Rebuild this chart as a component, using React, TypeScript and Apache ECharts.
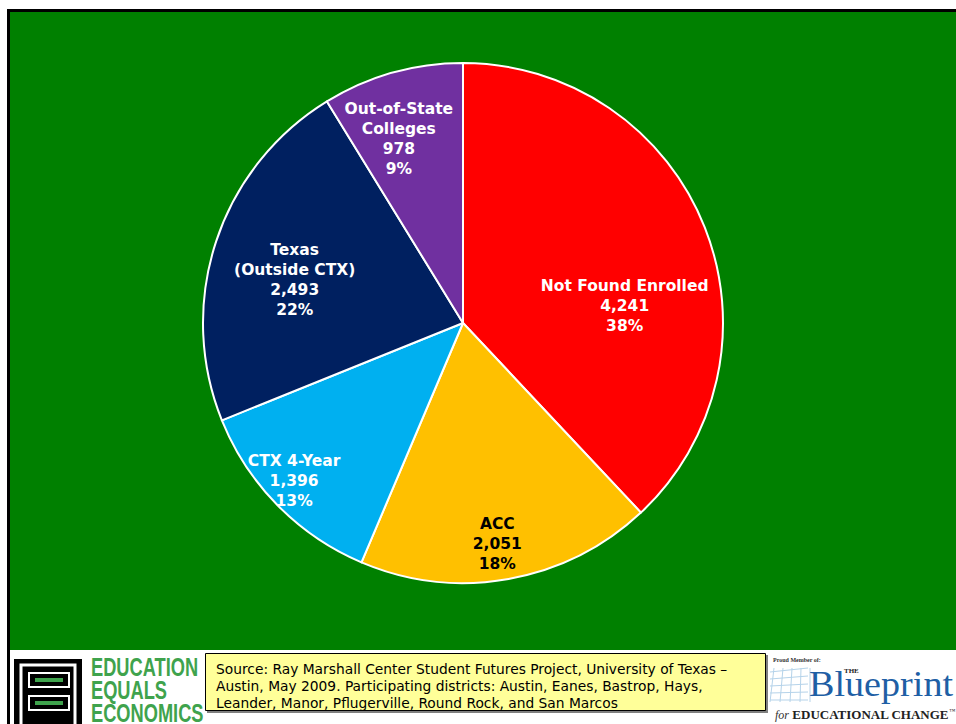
import React, { useEffect, useRef } from "react";
import * as echarts from "echarts";

const categories = ["Not Found Enrolled", "ACC", "CTX 4-Year", "Texas\n(Outside CTX)", "Out-of-State\nColleges"];
const values = [4241, 2051, 1396, 2493, 978];
const sliceColors = ["#FF0000", "#FFC000", "#00B0F0", "#002060", "#7030A0"];
const labelColors = ["#FFFFFF", "#000000", "#FFFFFF", "#FFFFFF", "#FFFFFF"];
const labelOffsets: [number, number][] = [[38, 32], [11, 90], [-74, 65], [-42, -1], [-28, -56]];
const sourceText =
  "Source: Ray Marshall Center Student Futures Project, University of Texas –\nAustin, May 2009. Participating districts: Austin, Eanes, Bastrop, Hays,\nLeander, Manor, Pflugerville, Round Rock, and San Marcos";

export default function App() {
  const ref = useRef<HTMLDivElement>(null);
  useEffect(() => {
    document.body.style.margin = "0";
    document.body.style.overflow = "hidden";
    const chart = echarts.init(ref.current!, null, { renderer: "svg" });
    const data = categories.map((name, i) => ({
      name,
      value: values[i],
      itemStyle: { color: sliceColors[i] },
      label: { color: labelColors[i], offset: labelOffsets[i] },
    }));
    const gridLines: any[] = [];
    for (let i = 0; i < 5; i++) {
      gridLines.push({
        type: "line",
        z: 1,
        shape: { x1: 774 + i * 9, y1: 668, x2: 770 + i * 10, y2: 702 },
        style: { stroke: "#B5D3EA", lineWidth: 1 },
      });
      gridLines.push({
        type: "line",
        z: 1,
        shape: { x1: 770, y1: 672 + i * 7, x2: 808, y2: 668 + i * 8 },
        style: { stroke: "#B5D3EA", lineWidth: 1 },
      });
    }
    chart.setOption({
      animation: false,
      backgroundColor: "#FFFFFF",
      graphic: [
        { type: "rect", z: 0, shape: { x: 10, y: 12, width: 960, height: 638 }, style: { fill: "#008000" } },
        { type: "rect", z: 0, shape: { x: 7, y: 9, width: 963, height: 3 }, style: { fill: "#000000" } },
        { type: "rect", z: 0, shape: { x: 7, y: 9, width: 3, height: 715 }, style: { fill: "#000000" } },
        // Education Equals Economics logo
        { type: "rect", z: 1, shape: { x: 14, y: 659, width: 68, height: 66 }, style: { fill: "#000000" } },
        { type: "rect", z: 1, shape: { x: 21, y: 665, width: 54, height: 62 }, style: { fill: "none", stroke: "#FFFFFF", lineWidth: 3 } },
        { type: "rect", z: 1, shape: { x: 29, y: 673, width: 40, height: 14 }, style: { fill: "none", stroke: "#FFFFFF", lineWidth: 2 } },
        { type: "rect", z: 1, shape: { x: 29, y: 696, width: 40, height: 14 }, style: { fill: "none", stroke: "#FFFFFF", lineWidth: 2 } },
        { type: "rect", z: 1, shape: { x: 35, y: 678, width: 28, height: 4 }, style: { fill: "#3FA34D" } },
        { type: "rect", z: 1, shape: { x: 35, y: 701, width: 28, height: 4 }, style: { fill: "#3FA34D" } },
        {
          type: "text",
          z: 1,
          x: 91,
          y: 656,
          scaleX: 0.73,
          style: {
            text: "EDUCATION\nEQUALS\nECONOMICS",
            fill: "#3FA34D",
            font: "bold 25px 'Liberation Sans', Arial, sans-serif",
            lineHeight: 23,
          },
        },
        // Source box
        { type: "rect", z: 1, shape: { x: 207, y: 655, width: 561, height: 58 }, style: { fill: "#808080" } },
        { type: "rect", z: 1, shape: { x: 205.5, y: 653.5, width: 560, height: 57 }, style: { fill: "#FFFF99", stroke: "#000000", lineWidth: 1 } },
        {
          type: "text",
          z: 2,
          x: 216,
          y: 660,
          style: {
            text: sourceText,
            fill: "#000000",
            font: "13.8px 'DejaVu Sans', Verdana, sans-serif",
            lineHeight: 17,
          },
        },
        // Blueprint logo
        ...gridLines,
        {
          type: "text", z: 2, x: 773, y: 657,
          style: { text: "Proud Member of:", fill: "#333333", font: "bold 6px 'Liberation Serif', serif" },
        },
        {
          type: "text", z: 3, x: 844, y: 667,
          style: { text: "THE", fill: "#222222", font: "bold 7px 'Liberation Serif', serif" },
        },
        {
          type: "text", z: 2, x: 809, y: 702, scaleX: 1.09,
          style: { text: "Blueprint", fill: "#1F5FA5", font: "35px 'Liberation Serif', serif", verticalAlign: "bottom" },
        },
        {
          type: "text", z: 2, x: 775, y: 708,
          style: {
            text: "{a|for} {b|EDUCATIONAL CHANGE}{c|™}",
            rich: {
              a: { font: "italic 12px 'Liberation Serif', serif", fill: "#333333" },
              b: { font: "bold 13px 'Liberation Serif', serif", fill: "#222222" },
              c: { font: "6px 'Liberation Serif', serif", fill: "#222222", verticalAlign: "top" },
            },
          },
        },
      ],
      series: [
        {
          type: "pie",
          center: [463, 323],
          radius: [0, 260],
          startAngle: 90,
          clockwise: true,
          percentPrecision: 0,
          avoidLabelOverlap: false,
          itemStyle: { borderColor: "#FFFFFF", borderWidth: 2 },
          label: {
            show: true,
            position: "inside",
            fontFamily: "'DejaVu Sans', Verdana, sans-serif",
            fontWeight: "bold",
            fontSize: 15.5,
            lineHeight: 20,
            align: "center",
            formatter: (p: any) => `${p.name}\n${Number(p.value).toLocaleString("en-US")}\n${p.percent}%`,
          },
          labelLine: { show: false },
          emphasis: { disabled: true },
          data,
        },
      ],
    });
    return () => chart.dispose();
  }, []);
  return <div ref={ref} style={{ position: "fixed", left: 0, top: 0, width: 970, height: 724, overflow: "hidden" }} />;
}
